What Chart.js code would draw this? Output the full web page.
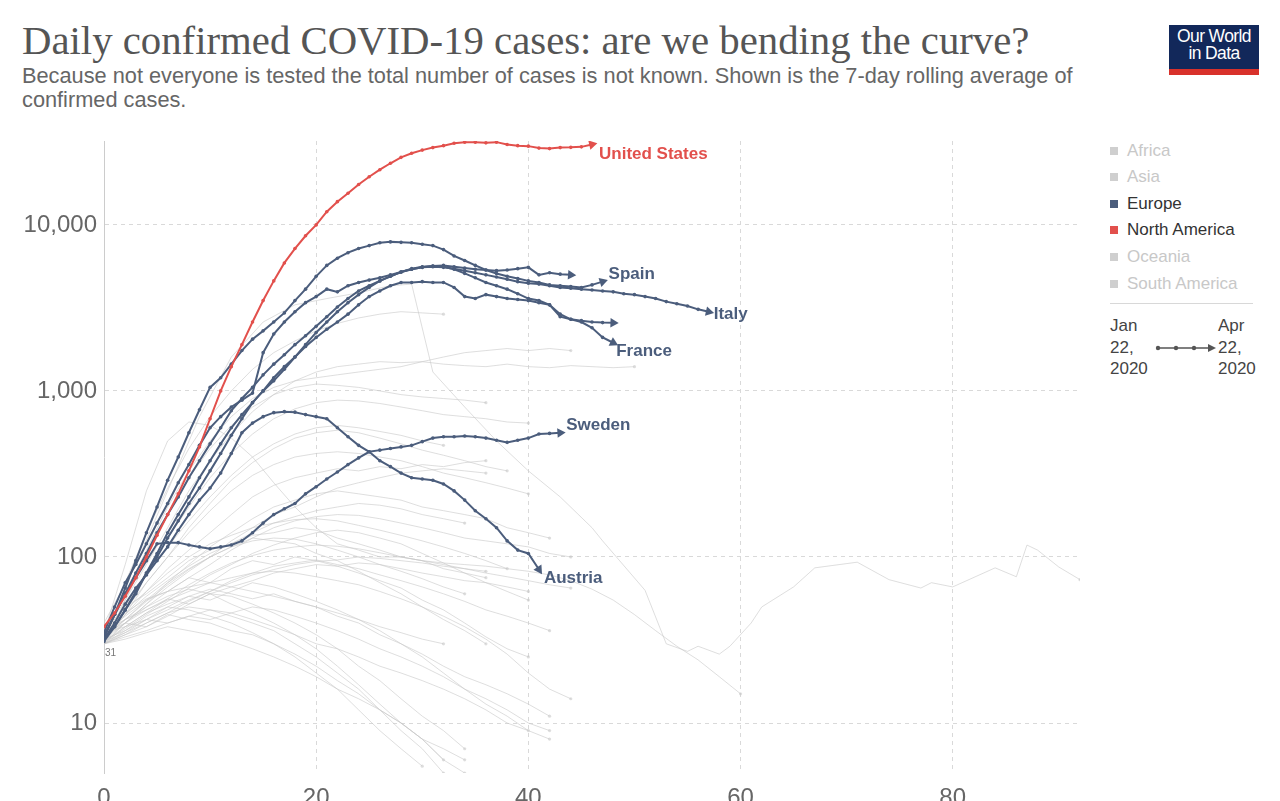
<!DOCTYPE html>
<html>
<head>
<meta charset="utf-8">
<script src="https://cdn.jsdelivr.net/npm/chart.js@4.4.1/dist/chart.umd.min.js"></script>
<style>
body { margin: 0; width: 1280px; height: 801px; overflow: hidden; background: #fff; position: relative; font-family: "Liberation Sans", Arial, sans-serif; }
#title { position: absolute; left: 22px; top: 23px; font-family: "Liberation Serif", serif; color: #555; font-size: 37px; line-height: 36px; white-space: nowrap; }
#subtitle { position: absolute; left: 22px; top: 64px; font-size: 19px; line-height: 24px; color: #666; white-space: nowrap; }
#logo { position: absolute; left: 1169px; top: 25px; width: 90px; height: 50px; background: #12285a; color: #fff; text-align: center; font-size: 17.5px; line-height: 17px; box-sizing: border-box; padding-top: 3px; border-bottom: 6px solid #d8312b; letter-spacing: -0.6px; }
#legend { position: absolute; left: 1110px; top: 0; }
.row { position: absolute; left: 0; height: 20px; line-height: 20px; font-size: 17px; white-space: nowrap; }
.sq { display: inline-block; width: 8px; height: 8px; margin-right: 9px; vertical-align: 1px; }
.off { color: #c8c8c8; } .off .sq { background: #cfcfcf; }
#sep { position: absolute; left: 1110px; top: 303px; width: 143px; height: 1px; background: #d8d8d8; }
.dt { position: absolute; top: 315px; font-size: 17px; line-height: 21.5px; color: #444; }
#chart { position: absolute; left: 0; top: 0; }
</style>
</head>
<body>
<div id="title">Daily confirmed COVID-19 cases: are we bending the curve?</div>
<div id="subtitle"><span id="sub1">Because not everyone is tested the total number of cases is not known. Shown is the 7-day rolling average of</span><br>confirmed cases.</div>
<div id="logo">Our World<br>in Data</div>
<div id="legend"></div>
<div id="sep"></div>
<div class="dt" style="left:1110px">Jan<br>22,<br>2020</div>
<div class="dt" style="left:1218px">Apr<br>22,<br>2020</div>
<svg style="position:absolute;left:1150px;top:340px" width="70" height="16">
  <line x1="8" y1="8" x2="60" y2="8" stroke="#555" stroke-width="1.5"/>
  <circle cx="8" cy="8" r="2.2" fill="#555"/><circle cx="26" cy="8" r="2.2" fill="#555"/><circle cx="44" cy="8" r="2.2" fill="#555"/>
  <polygon points="58,4 66,8 58,12" fill="#555"/>
</svg>
<canvas id="chart" width="1100" height="801"></canvas>
<script>
// axis ticks
const xTickValues = [0, 20, 40, 60, 80];
const yTickValues = [10, 100, 1000, 10000];

// legend
const continents = ['Africa', 'Asia', 'Europe', 'North America', 'Oceania', 'South America'];
const activeContinents = ['Europe', 'North America'];

// daily values, index = days since 30 daily cases
const unitedStates = [38, 46, 58, 75, 100, 135, 180, 240, 330, 460, 680, 1000, 1400, 1900, 2600, 3500, 4600, 5900, 7200, 8600,
  10000, 12000, 13800, 15500, 17500, 19500, 21500, 23500, 25500, 27000, 28200, 29200, 30000, 31000, 31500, 31500,
  31200, 31500, 30500, 30000, 29800, 29000, 28800, 29200, 29300, 29500, 30500];
const spain = [33, 45, 65, 95, 140, 200, 290, 400, 560, 770, 1050, 1200, 1450, 1750, 2050, 2300, 2600, 2950, 3500, 4100,
  4900, 5700, 6300, 6800, 7200, 7500, 7800, 7900, 7850, 7800, 7650, 7500, 7100, 6500, 6100, 5700, 5350, 5100, 4900,
  4750, 4600, 4500, 4350, 4300, 4250, 4200, 4350, 4550];
const italy = [35, 50, 70, 90, 120, 160, 210, 280, 360, 470, 600, 700, 800, 880, 970, 1700, 2200, 2600, 3000, 3400,
  3700, 4100, 3950, 4300, 4500, 4650, 4800, 5000, 5200, 5400, 5550, 5600, 5550, 5450, 5300, 5150, 5000, 4850, 4700,
  4550, 4450, 4400, 4300, 4200, 4150, 4100, 4050, 4000, 3950, 3850, 3800, 3700, 3600, 3450, 3350, 3250, 3100, 3000];
const unitedKingdom = [32, 38, 48, 60, 80, 105, 140, 180, 230, 300, 380, 480, 600, 720, 850, 1000, 1150, 1350, 1600, 1900,
  2250, 2600, 3000, 3400, 3800, 4200, 4600, 4900, 5200, 5400, 5550, 5650, 5700, 5600, 5500, 5400, 5350, 5300, 5350,
  5450, 5550, 5000, 5150, 5050, 5000];
const germany = [33, 45, 60, 80, 105, 140, 180, 230, 300, 380, 480, 600, 760, 900, 1050, 1250, 1450, 1650, 1900, 2150,
  2450, 2800, 3200, 3600, 4000, 4300, 4600, 4900, 5200, 5450, 5600, 5650, 5600, 5400, 5100, 4800, 4500, 4300, 4100,
  3850, 3600, 3500, 3300, 2900, 2700, 2650, 2600, 2580, 2570];
const france = [31, 38, 48, 62, 80, 100, 130, 165, 210, 260, 330, 420, 540, 680, 850, 1000, 1200, 1400, 1600, 1850,
  2100, 2350, 2600, 2900, 3300, 3700, 4000, 4300, 4500, 4500, 4550, 4500, 4500, 4200, 3700, 3600, 3800, 3700, 3600,
  3550, 3500, 3400, 3300, 2800, 2700, 2600, 2400, 2100, 1950];
const sweden = [33, 45, 60, 75, 95, 120, 122, 122, 118, 115, 112, 115, 118, 125, 140, 160, 180, 195, 210, 240, 265, 295,
  325, 360, 395, 430, 440, 450, 460, 470, 495, 520, 530, 530, 535, 530, 520, 505, 490, 505, 520, 550, 555, 560];
const austria = [32, 40, 52, 65, 78, 95, 115, 145, 180, 220, 260, 320, 420, 560, 640, 700, 740, 750, 745, 720, 700, 680,
  600, 530, 470, 430, 380, 350, 320, 300, 295, 290, 275, 250, 220, 190, 170, 150, 125, 110, 105, 84];

// the long grey line, on its own days
const chinaDays = [0, 3, 6, 9, 12, 15, 18, 21, 24, 27, 29, 31, 34, 37, 40, 43, 46, 47, 51, 53, 55, 56, 58, 59, 61, 62,
  65, 67, 71, 74, 77, 78, 80, 84, 86, 87, 88, 90, 92];
const chinaValues = [40, 90, 250, 700, 1600, 2600, 3300, 3600, 3900, 4300, 4400, 1300, 800, 500, 330, 230, 150, 125, 63,
  30, 27, 29, 26, 29, 40, 50, 66, 86, 93, 73, 65, 70, 66, 86, 76, 118, 110, 87, 73];

// other countries in grey, one value every 2 days
const greyStep = 2;
const otherCountries = [
  [35, 55, 90, 150, 250, 380, 550, 750, 950, 1150, 1300, 1400, 1450, 1500, 1480, 1500, 1450, 1420, 1400, 1450, 1400, 1380, 1420, 1400, 1380, 1400],
  [32, 60, 110, 200, 330, 500, 700, 900, 1050, 1150, 1200, 1250, 1300, 1350, 1400, 1500, 1600, 1700, 1750, 1800, 1750, 1800, 1750],
  [35, 70, 140, 260, 450, 700, 1000, 1350, 1700, 2000, 2300, 2550, 2750, 2900, 3000, 2950, 2900],
  [30, 55, 100, 180, 300, 450, 620, 800, 950, 1050, 1100, 1080, 1050, 1000, 950, 920, 900, 880, 850],
  [33, 50, 80, 130, 200, 300, 420, 550, 680, 780, 850, 880, 870, 840, 800, 760, 720, 700, 680, 650, 640],
  [31, 45, 70, 100, 150, 210, 290, 370, 450, 520, 560, 580, 560, 520, 480, 440, 410, 380, 350, 330],
  [34, 48, 62, 85, 110, 140, 180, 230, 270, 300, 320, 340, 330, 350, 340, 360, 350, 370, 380],
  [30, 40, 52, 70, 90, 115, 140, 170, 200, 220, 240, 250, 240, 230, 220, 200, 190, 180, 170, 150, 140, 130],
  [36, 50, 60, 75, 95, 110, 120, 135, 140, 150, 145, 130, 120, 110, 100, 95, 85, 80, 75],
  [32, 42, 55, 62, 75, 70, 85, 95, 90, 100, 95, 88, 80, 72, 65, 55, 48, 40, 33, 28, 25],
  [30, 36, 44, 50, 58, 55, 62, 70, 66, 60, 54, 48, 42, 36, 30, 25, 20, 16, 13, 11, 9],
  [33, 40, 48, 56, 52, 60, 58, 52, 46, 40, 34, 28, 22, 18, 14, 11, 9, 7],
  [35, 44, 55, 70, 85, 100, 115, 130, 125, 120, 105, 95, 82, 70, 60, 50, 42, 36, 30],
  [31, 35, 40, 46, 50, 48, 44, 40, 36, 30, 25, 20, 16, 12, 9, 7, 5],
  [34, 45, 58, 72, 88, 105, 120, 140, 160, 175, 190, 200, 210, 205, 195, 180, 170, 160],
  [30, 34, 38, 44, 52, 60, 66, 72, 80, 85, 90, 88, 92, 90, 85, 80, 76, 72, 70, 66, 62],
  [32, 40, 50, 62, 75, 90, 110, 130, 150, 165, 175, 180, 178, 170, 160, 150, 140, 130, 125, 120, 115, 105, 100],
  [36, 46, 56, 62, 66, 70, 66, 62, 58, 54, 50, 46, 42, 38, 35, 32, 30],
  [30, 33, 36, 40, 44, 42, 46, 50, 48, 44, 40, 36, 32, 28, 25, 22, 19, 16, 14, 12, 10, 9],
  [33, 42, 54, 68, 84, 100, 125, 150, 180, 200, 230, 260, 280, 300, 320, 330, 340, 330, 320],
  [31, 37, 45, 54, 65, 78, 90, 105, 118, 130, 140, 145, 140, 130, 120, 105, 92, 80, 70, 62, 55],
  [35, 40, 38, 45, 42, 40, 36, 34, 30, 26, 22, 18, 15, 12, 10, 8, 6],
  [30, 38, 46, 52, 58, 64, 60, 56, 60, 54, 50, 44, 40, 34, 30, 26, 22, 19, 17, 15, 13, 11],
  [32, 36, 42, 48, 55, 62, 70, 78, 84, 90, 94, 96, 100, 98, 95, 92, 88, 85, 82],
  [34, 42, 50, 58, 64, 60, 52, 46, 40, 34, 28, 22, 17, 13, 10, 8, 6, 5],
  [30, 35, 42, 50, 48, 44, 40, 35, 30, 25, 20, 16, 12, 9, 7, 5.5],
  [33, 48, 70, 100, 140, 190, 250, 310, 360, 400, 420, 430, 420, 400, 380, 350, 320, 300, 280, 260, 240],
  [31, 40, 52, 66, 82, 100, 115, 125, 130, 128, 120, 110, 100, 90, 82, 74, 66, 60],
  [35, 38, 42, 40, 44, 48, 46, 42, 38, 34, 30, 28, 25, 22, 20, 18, 16, 14, 12, 10, 9, 8],
  [30, 34, 40, 46, 54, 62, 72, 80, 88, 92, 96, 90, 85, 78, 72, 66, 60, 54, 48, 44, 40, 36],
  [32, 45, 62, 80, 100, 120, 135, 150, 160, 168, 170, 165, 155, 145, 135, 125, 115, 105, 95, 85],
  [36, 42, 48, 55, 62, 70, 75, 80, 82, 80, 76, 72, 68, 62, 56, 50, 44, 38, 32, 26, 20, 16, 14],
  [30, 32, 35, 38, 36, 34, 31, 28, 25, 22, 19, 16, 14, 12, 10, 8, 7, 6],
  [34, 52, 78, 115, 165, 230, 310, 400, 480, 550, 600, 620, 600, 570, 540, 500, 470],
  [31, 38, 46, 56, 68, 80, 92, 102, 110, 115, 118, 116, 112, 106, 100, 95, 90, 85, 80, 76, 72, 68, 65],
  [35, 90, 250, 500, 650, 620, 520, 400, 280, 200, 150, 120, 110, 100, 100, 95, 92, 90, 88, 85, 82, 78, 72, 64, 55, 45, 36, 29, 24, 19, 15]
];

const EUROPE = '#4b5d7c';
const NAMERICA = '#e2504c';
const GREY = 'rgba(200,200,200,0.6)';

// legend rows
const legendTops = [141, 167, 194, 220, 247, 274];
const legendColors = { 'Europe': EUROPE, 'North America': NAMERICA };
const $legend = document.getElementById('legend');
continents.forEach((c, i) => {
  const on = activeContinents.includes(c);
  const row = document.createElement('div');
  row.className = 'row' + (on ? '' : ' off');
  row.style.top = legendTops[i] + 'px';
  row.innerHTML = `<span class="sq"${on ? ` style="background:${legendColors[c]}"` : ''}></span>${c}`;
  if (on) row.style.color = '#333';
  $legend.appendChild(row);
});

// fit title and subtitle widths to the reference
function fitWidth(el, target) {
  const w = el.getBoundingClientRect().width;
  const fs = parseFloat(getComputedStyle(el).fontSize);
  el.style.fontSize = (fs * target / w) + 'px';
}
fitWidth(document.getElementById('title'), 1008);
const sub = document.getElementById('subtitle');
const s1 = document.getElementById('sub1').getBoundingClientRect().width;
sub.style.fontSize = (19 * 1051 / s1) + 'px';

function series(values) {
  return values.map((v, i) => ({ x: i, y: v }));
}

const isLast = ctx => ctx.dataIndex === ctx.dataset.data.length - 1;

function arrowRotation(ctx) {
  const d = ctx.dataset.data;
  const i = ctx.dataIndex;
  if (i !== d.length - 1 || i === 0) return 0;
  const xs = ctx.chart.scales.x, ys = ctx.chart.scales.y;
  const dx = xs.getPixelForValue(d[i].x) - xs.getPixelForValue(d[i - 1].x);
  const dy = ys.getPixelForValue(d[i].y) - ys.getPixelForValue(d[i - 1].y);
  return Math.atan2(dy, dx) * 180 / Math.PI + 90;
}

function highlighted(label, values, color, order) {
  return {
    label: label,
    data: series(values),
    borderColor: color,
    backgroundColor: color,
    borderWidth: 2,
    pointBorderColor: color,
    pointBorderWidth: 0,
    pointRadius: ctx => isLast(ctx) ? 5.5 : 1.8,
    pointStyle: ctx => isLast(ctx) ? 'triangle' : 'circle',
    pointRotation: arrowRotation,
    order: order
  };
}

const datasets = [];
datasets.push(highlighted('United States', unitedStates, NAMERICA, 1));
datasets.push(highlighted('Spain', spain, EUROPE, 2));
datasets.push(highlighted('Italy', italy, EUROPE, 2));
datasets.push(highlighted('', unitedKingdom, EUROPE, 2));
datasets.push(highlighted('', germany, EUROPE, 2));
datasets.push(highlighted('France', france, EUROPE, 2));
datasets.push(highlighted('Sweden', sweden, EUROPE, 2));
datasets.push(highlighted('Austria', austria, EUROPE, 2));

const greyLine = (data) => ({
  label: '',
  data: data,
  borderColor: GREY,
  backgroundColor: GREY,
  borderWidth: 1,
  pointBorderWidth: 0,
  pointRadius: ctx => isLast(ctx) ? 1.6 : 0,
  order: 3
});
datasets.push(greyLine(chinaDays.map((d, i) => ({ x: d, y: chinaValues[i] }))));
otherCountries.forEach(vals => datasets.push(greyLine(vals.map((v, i) => ({ x: i * greyStep, y: v })))));

// label offsets from the arrow tip
const labelOffsets = {
  'United States': [7, 10], 'Spain': [6, -7], 'Italy': [5, 3],
  'France': [3, 9], 'Sweden': [6, -7], 'Austria': [5, 9]
};

const endLabels = {
  id: 'endLabels',
  afterDatasetsDraw(chart) {
    const c = chart.ctx;
    c.save();
    c.font = 'bold 17px "Liberation Sans", Arial, sans-serif';
    c.textBaseline = 'middle';
    c.textAlign = 'left';
    chart.data.datasets.forEach((ds, i) => {
      const off = labelOffsets[ds.label];
      if (!off) return;
      const pts = chart.getDatasetMeta(i).data;
      const p = pts[pts.length - 1];
      c.fillStyle = ds.borderColor;
      c.fillText(ds.label, p.x + off[0], p.y + off[1]);
    });
    // start value under the origin cluster
    c.font = '10px "Liberation Sans", Arial, sans-serif';
    c.fillStyle = '#777';
    c.fillText('31', chart.scales.x.getPixelForValue(0) + 1, chart.scales.y.getPixelForValue(31) + 12);
    c.restore();
  }
};

new Chart(document.getElementById('chart'), {
  type: 'line',
  data: { datasets: datasets },
  options: {
    responsive: false,
    animation: false,
    layout: { padding: { left: 0, top: 141, right: 20, bottom: 0 } },
    plugins: { legend: { display: false }, tooltip: { enabled: false } },
    elements: { line: { tension: 0 } },
    scales: {
      x: {
        type: 'linear',
        min: 0,
        max: 92,
        afterBuildTicks: s => { s.ticks = xTickValues.map(v => ({ value: v })); },
        afterFit: s => { s.height = 28; },
        grid: { color: ctx => (ctx.tick && ctx.tick.value === 0) ? 'rgba(0,0,0,0)' : '#d9d9d9', drawTicks: false },
        border: { display: false, dash: [4, 4] },
        ticks: { padding: 11, color: '#666', font: { size: 24, family: '"Liberation Sans", Arial, sans-serif' } }
      },
      y: {
        type: 'logarithmic',
        min: 5,
        max: 32000,
        afterBuildTicks: s => { s.ticks = yTickValues.map(v => ({ value: v })); },
        afterFit: s => { s.width = 104; },
        grid: { color: '#d9d9d9', drawTicks: false },
        border: { display: true, color: '#cccccc', width: 1, dash: [4, 4] },
        ticks: {
          padding: 7,
          color: '#666',
          font: { size: 24, family: '"Liberation Sans", Arial, sans-serif' },
          callback: v => Number(v).toLocaleString('en-US')
        }
      }
    }
  },
  plugins: [endLabels]
});
</script>
</body>
</html>
